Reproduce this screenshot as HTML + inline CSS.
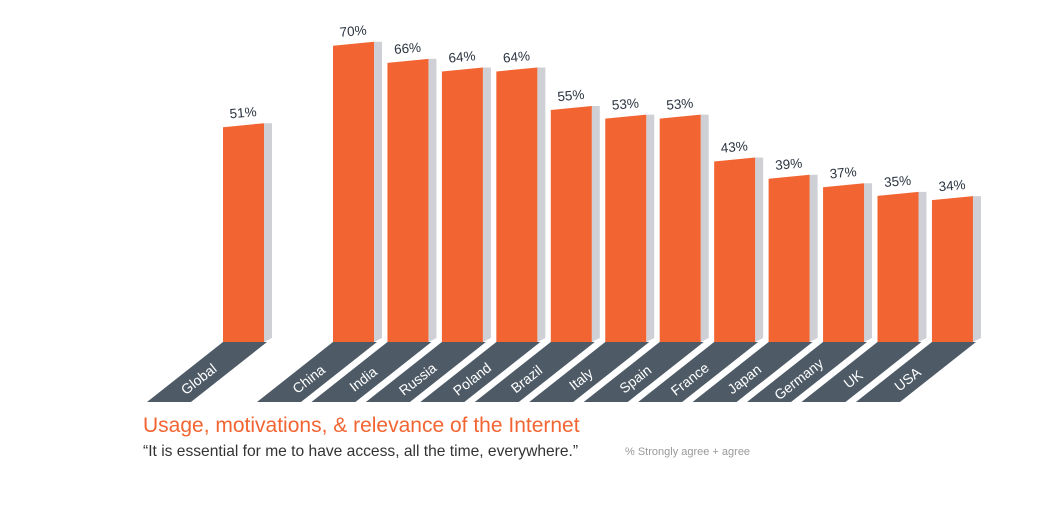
<!DOCTYPE html>
<html><head><meta charset="utf-8"><style>
body{margin:0;background:#fff;width:1062px;height:501px;overflow:hidden;font-family:"Liberation Sans",sans-serif}
</style></head><body>
<svg id="chart" width="1062" height="501" viewBox="0 0 1062 501" xmlns="http://www.w3.org/2000/svg">
<g id="bars"></g>
<text x="143" y="432" font-size="21" fill="#f26532" font-family="Liberation Sans, sans-serif">Usage, motivations, &amp; relevance of the Internet</text>
<text x="143" y="456" font-size="15.6" fill="#333" font-family="Liberation Sans, sans-serif">“It is essential for me to have access, all the time, everywhere.”</text>
<text x="625" y="455" font-size="11" fill="#999" font-family="Liberation Sans, sans-serif">% Strongly agree + agree</text>
</svg>
<script>
const categories = ["Global","China","India","Russia","Poland","Brazil","Italy","Spain","France","Japan","Germany","UK","USA"];
const values = [51,70,66,64,64,55,53,53,43,39,37,35,34];
const valueLabels = ["51%","70%","66%","64%","64%","55%","53%","53%","43%","39%","37%","35%","34%"];

const NS="http://www.w3.org/2000/svg";
const g=document.getElementById('bars');
const baseY=342, scale=4.29, barW=41, sideW=8, pitch=54.45;
function xPos(i){ return i===0 ? 223 : 333 + (i-1)*pitch; }
function yPos(v){ return baseY - v*scale; }
function mk(tag,attrs){const e=document.createElementNS(NS,tag);for(const k in attrs)e.setAttribute(k,attrs[k]);g.appendChild(e);return e;}
categories.forEach((c,i)=>{
  const x=xPos(i), yt=yPos(values[i]);
  const base=mk('polygon',{points:`${x},${baseY} ${x+barW+3},${baseY} ${x+barW+3-76},${baseY+60} ${x-76},${baseY+60}`,fill:'#4e5b67'});
  
  
  const side=mk('polygon',{points:`${x+barW},${yt} ${x+barW+sideW},${yt} ${x+barW+sideW},${baseY-4} ${x+barW},${baseY}`,fill:'#cfd0d5'});
  
  
  const bar=mk('polygon',{points:`${x},${yt+4} ${x+barW},${yt} ${x+barW},${baseY} ${x},${baseY}`,fill:'#f26532'});
  
  
  const cx=x+barW/2, cy=yt-6;
  const t=mk('text',{x:cx,y:cy,'text-anchor':'middle','font-size':'13.5',fill:'#2b3440','font-family':'Liberation Sans, sans-serif',transform:`rotate(-5 ${cx} ${cy})`});
  t.textContent=valueLabels[i];
  
  
  const lx=x+barW/2+2-76*37/60, ly=379;
  const l=mk('text',{x:lx,y:ly+5,'text-anchor':'middle','font-size':'14',fill:'#fff','font-family':'Liberation Sans, sans-serif',transform:`rotate(-38 ${lx} ${ly})`});
  l.textContent=c;
  
  
});
</script>
</body></html>
